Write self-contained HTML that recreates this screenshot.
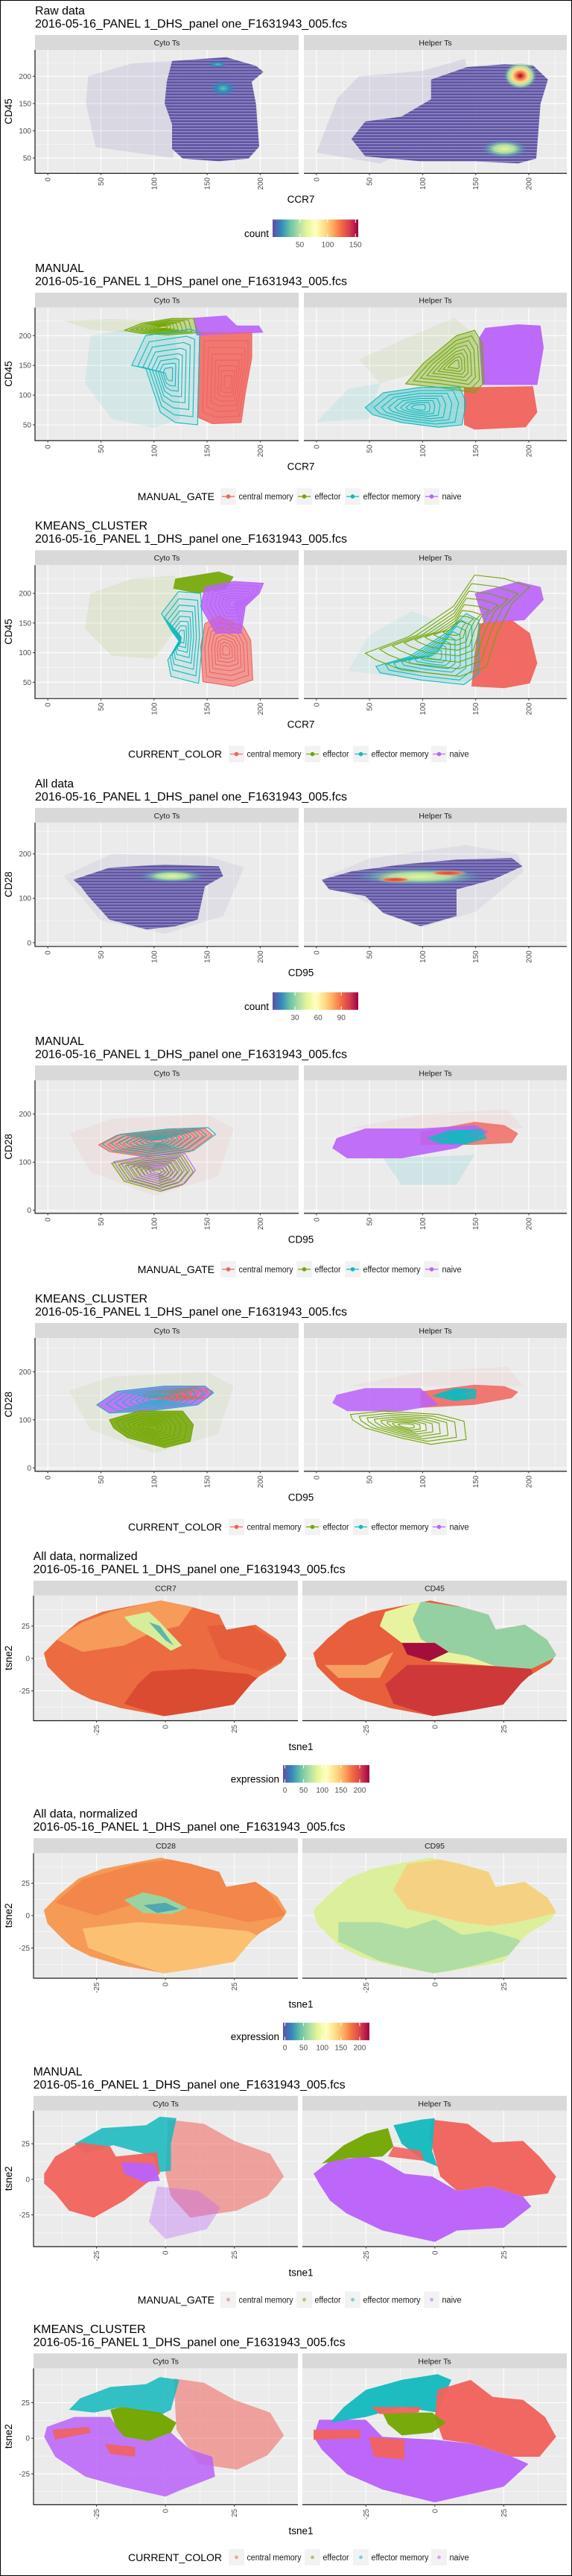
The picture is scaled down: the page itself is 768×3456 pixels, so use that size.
<!DOCTYPE html>
<html><head><meta charset="utf-8"><style>
html,body{margin:0;padding:0;background:#fff}
svg{display:block;font-family:"Liberation Sans",sans-serif}
</style></head><body>
<svg id="chart" width="768" height="3456" viewBox="0 0 768 3456" xmlns="http://www.w3.org/2000/svg">
<defs>
<linearGradient id="specH" x1="0" x2="1" y1="0" y2="0">
<stop offset="0" stop-color="#5E4FA2"/><stop offset="0.1" stop-color="#3288BD"/><stop offset="0.2" stop-color="#66C2A5"/><stop offset="0.3" stop-color="#ABDDA4"/><stop offset="0.4" stop-color="#E6F598"/><stop offset="0.5" stop-color="#FFFFBF"/><stop offset="0.6" stop-color="#FEE08B"/><stop offset="0.7" stop-color="#FDAE61"/><stop offset="0.8" stop-color="#F46D43"/><stop offset="0.9" stop-color="#D53E4F"/><stop offset="1" stop-color="#9E0142"/>
</linearGradient>
<radialGradient id="hotRed"><stop offset="0" stop-color="#9E0142"/><stop offset="0.25" stop-color="#F46D43"/><stop offset="0.5" stop-color="#FEE08B"/><stop offset="0.75" stop-color="#ABDDA4"/><stop offset="1" stop-color="#66C2A5" stop-opacity="0"/></radialGradient>
<radialGradient id="hotYel"><stop offset="0" stop-color="#E6F598"/><stop offset="0.45" stop-color="#ABDDA4"/><stop offset="1" stop-color="#3288BD" stop-opacity="0"/></radialGradient>
<radialGradient id="hotTeal"><stop offset="0" stop-color="#66C2A5"/><stop offset="0.5" stop-color="#3288BD"/><stop offset="1" stop-color="#3288BD" stop-opacity="0"/></radialGradient>
<radialGradient id="hotOrange"><stop offset="0" stop-color="#D53E4F"/><stop offset="0.6" stop-color="#F46D43"/><stop offset="1" stop-color="#FEE08B" stop-opacity="0"/></radialGradient>
<pattern id="stripes" width="4" height="4" patternUnits="userSpaceOnUse"><rect width="4" height="1.2" fill="#ffffff" opacity="0.35"/></pattern>
</defs>
<rect x="0.5" y="0.5" width="767" height="3455" fill="#fff" stroke="#000" stroke-width="1"/>
</svg>
<script>
// ---------- data (data units) ----------
const scatterXTicks=[0,50,100,150,200];
const ccrYTicks=[50,100,150,200];
const cd28YTicks=[0,100,200];
const tsneTicks=[-25,0,25];
const countTicks1=[50,100,150];
const countRange1=[1,155];
const countTicks4=[30,60,90];
const countRange4=[1,112];
const exprTicks=[0,50,100,150,200];
const exprRange=[-5,226];
const gateLabels=["central memory","effector","effector memory","naive"];

const s1CytoSparse=[[38,200],[80,224],[120,228],[118,50],[90,58],[45,70],[36,150]];
const s1CytoCore=[[117,228],[168,235],[196,219],[203,208],[192,190],[196,149],[199,71],[189,49],[161,44],[127,49],[117,67],[117,112],[110,150],[112,190]];
const s1CytoSpots=[[160,222,9,6],[165,178,12,14]];
const s1HelperSparse=[[20,160],[40,200],[100,210],[140,232],[150,120],[60,40],[0,60]];
const s1HelperCore=[[108,194],[142,217],[177,222],[204,220],[218,194],[211,149],[207,49],[190,40],[149,44],[98,44],[46,53],[33,85],[46,117],[80,126],[108,158]];
const s1HelperHot=[192,201,15,24];
const s1HelperWarm=[177,67,22,17];

const s2CytoFaintEm=[[40,200],[90,215],[120,205],[125,60],[100,45],[60,60],[35,120]];
const s2CytoFaintEf=[[15,225],[60,228],[100,225],[80,205],[40,210]];
const s2CytoNaive=[[137,230],[168,234],[178,217],[199,217],[203,205],[140,200]];
const s2CytoCM=[[143,205],[192,205],[192,163],[186,104],[182,54],[155,52],[141,63]];
const s2CytoEf=[[72,209],[89,221],[117,229],[137,229],[141,205],[113,201],[86,204]];
const s2CytoEm=[[79,150],[92,200],[134,211],[143,205],[141,50],[120,54],[106,71],[92,146]];
const s2HelperFaintEf=[[40,160],[90,200],[130,230],[150,200],[100,140],[60,120]];
const s2HelperFaintEm=[[0,55],[30,110],[60,120],[50,60]];
const s2HelperNaive=[[159,213],[190,219],[211,217],[214,180],[208,117],[156,117],[153,196]];
const s2HelperCM=[[139,113],[204,115],[208,71],[197,46],[149,42],[139,50]];
const s2HelperEf=[[84,119],[101,154],[132,200],[149,209],[156,188],[158,121],[149,104],[115,113]];
const s2HelperEm=[[46,79],[63,104],[98,113],[135,113],[141,88],[137,50],[115,46],[80,54],[53,67]];

const s3CytoFaintEf=[[40,200],[80,225],[120,230],[125,150],[100,90],[60,95],[35,140]];
const s3CytoEf=[[120,225],[161,237],[175,228],[168,208],[141,200],[118,208]];
const s3CytoNaive=[[148,211],[175,220],[203,217],[199,200],[186,178],[182,133],[158,133],[144,178]];
const s3CytoCM=[[148,149],[161,161],[184,144],[191,121],[193,54],[175,43],[146,51],[144,110]];
const s3CytoEm=[[107,166],[123,203],[144,200],[146,127],[142,48],[116,60],[113,88],[125,116],[116,138]];
const s3HelperFaint=[[30,70],[50,130],[90,170],[120,150],[110,70],[70,60]];
const s3HelperNaive=[[149,200],[190,220],[211,211],[214,189],[196,155],[158,149]];
const s3HelperCM=[[153,149],[184,155],[201,133],[208,82],[201,48],[177,40],[146,43],[149,99]];
const s3HelperEf=[[46,99],[87,127],[129,178],[149,231],[177,225],[201,211],[184,183],[170,133],[160,76],[135,60],[80,71],[56,88]];
const s3HelperEm=[[56,77],[87,93],[122,133],[141,166],[153,155],[153,65],[139,46],[98,54],[60,66]];

const s4CytoSparse=[[15,150],[60,200],[150,195],[185,170],[165,60],[110,20],[50,50]];
const s4CytoCore=[[24,142],[58,169],[110,176],[161,172],[165,150],[148,127],[141,52],[120,37],[93,30],[58,52],[38,105],[31,127]];
const s4CytoSpot=[117,150,32,15];
const s4HelperSparse=[[10,150],[50,190],[140,220],[190,200],[195,160],[150,70],[100,35],[20,120]];
const s4HelperCore=[[5,142],[34,161],[80,176],[132,187],[184,191],[194,172],[166,142],[132,120],[132,60],[98,37],[63,67],[46,105],[12,120]];
const s4HelperSpot=[97,149,62,20];
const s4HelperHot=[[74,142,16,6],[124,157,18,6]];

const s5CytoFaint=[[20,160],[60,190],[150,200],[175,170],[160,70],[100,30],[40,80]];
const s5CytoCM=[[48,136],[65,156],[110,167],[148,170],[155,156],[134,122],[93,111],[58,122]];
const s5CytoLow=[[60,98],[86,108],[127,115],[137,80],[127,53],[106,39],[72,60]];
const s5HelperFaintTop=[[30,170],[100,200],[180,210],[195,170],[100,170]];
const s5HelperFaint=[[63,108],[149,115],[132,53],[80,53]];
const s5HelperCM=[[98,163],[149,184],[177,177],[190,160],[184,140],[149,136],[98,136]];
const s5HelperNaive=[[19,150],[46,170],[98,170],[149,177],[162,163],[132,129],[80,108],[29,108],[15,129]];
const s5HelperEm=[[105,150],[125,165],[155,168],[160,150],[140,138],[115,140]];

const s6CytoFaint=[[20,160],[60,190],[150,200],[175,170],[160,70],[100,30],[40,80]];
const s6CytoNaive=[[46,131],[65,159],[110,170],[148,170],[156,156],[141,131],[93,118],[58,114]];
const s6CytoCM=[[95,158],[140,168],[155,160],[150,145],[120,140],[90,148]];
const s6CytoEf=[[58,100],[86,118],[127,118],[137,90],[134,55],[110,42],[75,63],[62,83]];
const s6HelperFaint=[[30,170],[100,200],[180,210],[195,170],[100,170]];
const s6HelperCM=[[98,159],[149,173],[177,170],[190,158],[184,145],[149,131],[98,125]];
const s6HelperNaive=[[19,152],[46,166],[98,166],[115,131],[80,118],[29,118],[15,135]];
const s6HelperEm=[[110,150],[130,165],[150,163],[150,145],[130,140]];
const s6HelperEf=[[32,111],[63,118],[115,111],[139,97],[141,59],[108,49],[80,62],[46,83],[34,100]];

const tsneOutline=[[-1.7,44.7],[-16.3,38.8],[-22.9,36],[-31.5,28.6],[-38.8,15.7],[-44.1,4.2],[-42.8,-6.1],[-38.1,-16.3],[-34.2,-24],[-26.9,-31.7],[-16.3,-38.2],[-0.4,-44.5],[11.5,-40.7],[24.8,-35.6],[31.4,-18.9],[34,-13.8],[42,-3.5],[44,2.9],[40.7,14.4],[32.7,26],[22.1,22.1],[19.5,33.7],[8.9,40.1]];
const s7CcrLight=[[-40,15],[-30,28],[-20,36],[-2,45],[10,40],[5,25],[-5,20],[-15,10],[-30,5]];
const s7CcrDark=[[-5,-10],[10,-8],[30,-12],[36,-18],[25,-36],[0,-45],[-15,-35],[-10,-20]];
const s7CcrRight=[[15,25],[30,27],[42,10],[44,0],[35,-10],[20,0]];
const s7CcrGreen=[[-15,32],[-6,36],[-2,28],[6,10],[2,6],[-4,15],[-12,25]];
const s7CcrTeal=[[-6,28],[-2,25],[3,10],[0,14]];
const s7Cd45Red=[[-10,-5],[10,-5],[22,-6],[35,-8],[36,-18],[25,-36],[0,-45],[-15,-35],[-18,-20]];
const s7Cd45Light=[[-40,-5],[-25,-5],[-15,5],[-20,-15],[-35,-15]];
const s7Cd45Yellow=[[-18,36],[-5,44],[-8,30],[-5,15],[2,6],[12,2],[22,-6],[10,-4],[-2,-2],[-12,12],[-20,25]];
const s7Cd45Green=[[-5,44],[8,40],[20,38],[32,27],[42,15],[45,2],[35,-8],[22,-6],[12,2],[2,6],[-5,15],[-8,30]];
const s7Cd45Dark=[[-12,12],[0,12],[5,5],[-2,-2],[-10,3]];
const s8Cd28Top=[[-40,10],[-30,28],[-10,40],[5,44],[20,38],[35,25],[44,0],[30,-5],[10,5],[-10,10],[-25,0]];
const s8Cd28Bottom=[[-30,-10],[-10,-5],[10,-8],[30,-12],[36,-18],[25,-36],[0,-45],[-15,-35],[-28,-25]];
const s8Cd28Green=[[-15,12],[-8,18],[0,14],[8,6],[2,1],[-8,2]];
const s8Cd28Teal=[[-8,8],[0,10],[5,5],[-3,2]];
const s8Cd95Orange=[[-10,40],[5,44],[20,38],[32,27],[42,12],[44,2],[30,-5],[20,-8],[10,-5],[0,0],[-10,5],[-15,20]];
const s8Cd95Green=[[-35,-5],[-20,-5],[-10,-10],[0,-3],[10,-15],[20,-12],[30,-18],[35,-25],[15,-38],[0,-45],[-20,-35],[-35,-20]];

const s9CytoEm=[[-33,25],[-23,36],[-7,38],[-2,44],[4,43],[2,25],[2,6],[-3,5],[-4,16],[-19,24],[-29,18]];
const s9CytoCM=[[-44,4],[-40,16],[-31,26],[-20,23],[-18,16],[-3,19],[-2,4],[-7,-3],[-15,-15],[-26,-27],[-35,-22],[-40,-10],[-44,-3]];
const s9CytoCMSparse=[[1,42],[14,39],[25,27],[38,18],[43,2],[37,-12],[26,-22],[9,-27],[2,-12],[0,4]];
const s9CytoNaive=[[-16,12],[-4,11],[-2,-1],[-8,-2],[-15,4]];
const s9CytoNaiveSparse=[[-3,-5],[12,-8],[20,-20],[15,-35],[0,-42],[-6,-30]];
const s9HelperCM=[[-1,42],[12,39],[21,26],[32,27],[38,16],[44,2],[41,-10],[32,-12],[20,-5],[8,-8],[2,2],[0,16],[-2,30]];
const s9HelperNaive=[[-44,4],[-38,13],[-25,16],[-19,13],[-11,4],[-1,2],[8,-8],[20,-5],[32,-12],[35,-19],[25,-34],[8,-36],[0,-44],[-19,-36],[-32,-24],[-38,-15],[-42,-3]];
const s9HelperEf=[[-33,24],[-25,32],[-17,36],[-15,23],[-19,16],[-31,15],[-41,11]];
const s9HelperEm=[[-15,38],[-5,42],[0,43],[-1,20],[1,9],[-4,13],[-12,25]];
const s9HelperCMMid=[[-15,23],[-5,20],[-4,13],[-17,16]];

const s10CytoNaive=[[-43,8],[-33,15],[-20,15],[-15,1],[-6,-2],[2,4],[9,-8],[17,-13],[18,-27],[6,-36],[0,-41],[-16,-34],[-29,-27],[-40,-13],[-44,1]];
const s10CytoCMSparse=[[3,42],[14,39],[25,27],[38,18],[43,2],[37,-12],[26,-22],[12,-18],[4,6]];
const s10CytoEm=[[-35,20],[-31,28],[-20,36],[-7,38],[-2,43],[5,41],[2,20],[-2,16],[-16,22],[-26,18]];
const s10CytoEf=[[-20,20],[-16,22],[-2,18],[4,11],[2,4],[-6,-2],[-15,1],[-18,8]];
const s10CytoCMLeft=[[-41,6],[-28,8],[-27,4],[-40,-1]];
const s10CytoCMLeft2=[[-22,-4],[-11,-6],[-11,-13],[-20,-11]];
const s10HelperNaive=[[-42,13],[-25,13],[-19,1],[0,-1],[14,-4],[28,-13],[34,-18],[25,-34],[0,-45],[-19,-36],[-32,-25],[-41,-8],[-44,1]];
const s10HelperEm=[[-33,22],[-25,34],[-12,41],[1,45],[6,41],[1,18],[-12,22],[-25,15],[-38,11]];
const s10HelperCM=[[1,34],[13,41],[21,29],[32,27],[40,15],[44,1],[38,-13],[28,-13],[14,-4],[3,-1],[0,15]];
const s10HelperEf=[[-19,18],[-1,18],[4,11],[-1,4],[-12,2],[-17,10]];
const s10HelperCMMid=[[-23,22],[-5,22],[-6,18],[-20,17]];
const s10HelperCMLow=[[-24,1],[-11,-1],[-11,-15],[-22,-13]];
const s10HelperCMLeft=[[-44,6],[-27,6],[-27,0],[-44,-1]];

// ---------- rendering ----------
const NS='http://www.w3.org/2000/svg';
const svg=document.getElementById('chart');
function mk(tag,attrs,parent){const e=document.createElementNS(NS,tag);for(const k in attrs)e.setAttribute(k,attrs[k]);(parent||svg).appendChild(e);return e;}
function tx(str,attrs,parent){const e=mk('text',attrs,parent);e.textContent=str;return e;}
const C={cm:'#F1635D',ef:'#72A600',em:'#12B9BE',nv:'#BA62FA'};
const HEX='#5A4EA1';
const SEC=345.6;
const sectionTitles=["Raw data","MANUAL","KMEANS_CLUSTER","All data","MANUAL","KMEANS_CLUSTER","All data, normalized","All data, normalized","MANUAL","KMEANS_CLUSTER"];
const titleWidths=[67,66,151,52,66,151,140,140,66,151];
const FCS="2016-05-16_PANEL 1_DHS_panel one_F1631943_005.fcs";
const layout=[
 {kind:'sc',bottom:232,yz:248.6,yk:.7313,yt:ccrYTicks,xlab:'CCR7',ylab:'CD45',legend:'count1',strips:['Cyto Ts','Helper Ts']},
 {kind:'sc',bottom:245,yz:264.3,yk:.798,yt:ccrYTicks,xlab:'CCR7',ylab:'CD45',legend:'MANUAL_GATE',strips:['Cyto Ts','Helper Ts']},
 {kind:'sc',bottom:245.5,yz:263.9,yk:.795,yt:ccrYTicks,xlab:'CCR7',ylab:'CD45',legend:'CURRENT_COLOR',strips:['Cyto Ts','Helper Ts']},
 {kind:'sc',bottom:232.5,yz:228,yk:.596,yt:cd28YTicks,xlab:'CD95',ylab:'CD28',legend:'count4',strips:['Cyto Ts','Helper Ts']},
 {kind:'sc',bottom:245,yz:241.3,yk:.645,yt:cd28YTicks,xlab:'CD95',ylab:'CD28',legend:'MANUAL_GATE',strips:['Cyto Ts','Helper Ts']},
 {kind:'sc',bottom:245.5,yz:241.3,yk:.645,yt:cd28YTicks,xlab:'CD95',ylab:'CD28',legend:'CURRENT_COLOR',strips:['Cyto Ts','Helper Ts']},
 {kind:'ts',bottom:234.4,yz:151.4,yk:1.74,yt:tsneTicks,xlab:'tsne1',ylab:'tsne2',legend:'expr',strips:['CCR7','CD45']},
 {kind:'ts',bottom:234.3,yz:150.8,yk:1.74,yt:tsneTicks,xlab:'tsne1',ylab:'tsne2',legend:'expr',strips:['CD28','CD95']},
 {kind:'ts',bottom:248.8,yz:159,yk:1.908,yt:tsneTicks,xlab:'tsne1',ylab:'tsne2',legend:'MANUAL_GATE',strips:['Cyto Ts','Helper Ts']},
 {kind:'ts',bottom:249.5,yz:160.8,yk:1.91,yt:tsneTicks,xlab:'tsne1',ylab:'tsne2',legend:'CURRENT_COLOR',strips:['Cyto Ts','Helper Ts']}
];
let clipId=0;
function geom(si,side){
  const L=layout[si],top=si*SEC;
  let x0,xk,l,r;
  if(L.kind==='sc'){xk=1.426;x0=side?424.8:64.2;l=side?408:47;r=side?761:401;}
  else{xk=3.70;x0=side?583.8:222.1;l=side?406:45;r=side?761:400;}
  return {top,l,r,t:top+67,b:top+L.bottom,xk,x0,
    X:v=>x0+v*xk, Y:v=>top+L.yz-v*L.yk,
    xRange:[(l-x0)/xk,(r-x0)/xk], yRange:[(L.yz-L.bottom)/L.yk,(L.yz-67)/L.yk]};
}
function pts(g,arr){return arr.map(p=>g.X(p[0]).toFixed(1)+','+g.Y(p[1]).toFixed(1)).join(' ');}
function poly(g,arr,fill,op,parent,name){
  const e=mk('polygon',{points:pts(g,arr),fill:fill,'fill-opacity':op,'stroke-linejoin':'round'},parent);
  
  
  return e;
}
function contour(g,arr,color,parent,name,fill){
  let cx=0,cy=0;arr.forEach(p=>{cx+=p[0];cy+=p[1];});cx/=arr.length;cy/=arr.length;
  const grp=mk('g',{},parent);
  
  
  if(fill){mk('polygon',{points:pts(g,arr),fill:color,'fill-opacity':fill},grp);}
  [1,.84,.7,.57,.45,.34,.24,.14].forEach(s=>{
    const sc=arr.map(p=>[cx+(p[0]-cx)*s,cy+(p[1]-cy)*s]);
    mk('polygon',{points:pts(g,sc),fill:'none',stroke:color,'stroke-width':1.1,'stroke-linejoin':'round'},grp);
  });
  return grp;
}
function spot(g,s,grad,parent,name){
  const e=mk('ellipse',{cx:g.X(s[0]),cy:g.Y(s[1]),rx:s[2]*g.xk,ry:Math.abs(g.Y(0)-g.Y(s[3])),fill:'url(#'+grad+')'},parent);
  
  
}
function hexCore(g,arr,parent,name){
  poly(g,arr,HEX,0.95,parent,name);
  mk('polygon',{points:pts(g,arr),fill:'url(#stripes)'},parent);
}

function drawPanel(si,side,fn){
  const L=layout[si],g=geom(si,side);
  const pg=mk('g',{});
  
  
  const st=mk('rect',{x:g.l,y:g.top+47,width:g.r-g.l,height:20,fill:'#D9D9D9'},pg);
  
  
  const stt=tx(L.strips[side],{x:(g.l+g.r)/2,y:g.top+61,'font-size':10.5,'text-anchor':'middle',fill:'#1A1A1A'},pg);
  
  
  const bg=mk('rect',{x:g.l,y:g.t,width:g.r-g.l,height:g.b-g.t,fill:'#EBEBEB'},pg);
  
  
  const xt=L.kind==='sc'?scatterXTicks:tsneTicks;
  const xstep=xt[1]-xt[0],ystep=L.yt[1]-L.yt[0];
  for(let v=Math.floor(g.xRange[0]/xstep)*xstep-xstep/2;v<=g.xRange[1];v+=xstep){const x=g.X(v);if(x>g.l&&x<g.r)mk('line',{x1:x,x2:x,y1:g.t,y2:g.b,stroke:'#fff','stroke-width':.5},pg);}
  for(let v=Math.floor(g.yRange[0]/ystep)*ystep-ystep/2;v<=g.yRange[1];v+=ystep){const y=g.Y(v);if(y>g.t&&y<g.b)mk('line',{x1:g.l,x2:g.r,y1:y,y2:y,stroke:'#fff','stroke-width':.5},pg);}
  xt.forEach(v=>{const x=g.X(v);if(x>g.l&&x<g.r)mk('line',{x1:x,x2:x,y1:g.t,y2:g.b,stroke:'#fff','stroke-width':1.1},pg);});
  L.yt.forEach(v=>{const y=g.Y(v);if(y>g.t&&y<g.b)mk('line',{x1:g.l,x2:g.r,y1:y,y2:y,stroke:'#fff','stroke-width':1.1},pg);});
  clipId++;
  const cp=mk('clipPath',{id:'cp'+clipId},pg);
  mk('rect',{x:g.l,y:g.t,width:g.r-g.l,height:g.b-g.t},cp);
  const dg=mk('g',{'clip-path':'url(#cp'+clipId+')'},pg);
  
  
  fn(g,dg);
  mk('line',{x1:g.l,x2:g.r,y1:g.b+.5,y2:g.b+.5,stroke:'#1a1a1a','stroke-width':1.2},pg);
  if(!side)mk('line',{x1:g.l,x2:g.l,y1:g.t,y2:g.b+1,stroke:'#1a1a1a','stroke-width':1.2},pg);
  xt.forEach(v=>{const x=g.X(v);
    mk('line',{x1:x,x2:x,y1:g.b,y2:g.b+3,stroke:'#333','stroke-width':1},pg);
    const t=tx(String(v),{x:0,y:0,transform:'translate('+(x+3.5)+','+(g.b+6)+') rotate(-90)','font-size':10,'text-anchor':'end',fill:'#4D4D4D'},pg);
    
    
  });
  if(!side){L.yt.forEach(v=>{const y=g.Y(v);
    mk('line',{x1:g.l-3,x2:g.l,y1:y,y2:y,stroke:'#333','stroke-width':1},pg);
    const t=tx(String(v),{x:g.l-5,y:y+3.5,'font-size':10,'text-anchor':'end',fill:'#4D4D4D'},pg);
    
    
  });}
}

function drawSectionFrame(si){
  const L=layout[si],top=si*SEC;
  const lx=L.kind==='sc'?47:44.6;
  const t1=tx(sectionTitles[si],{x:lx,y:top+19.5,'font-size':16,fill:'#000',textLength:titleWidths[si],lengthAdjust:'spacingAndGlyphs'});
  
  
  const t2=tx(FCS,{x:lx,y:top+37,'font-size':16,fill:'#000',textLength:419,lengthAdjust:'spacingAndGlyphs'});
  
  
  const xl=tx(L.xlab,{x:404,y:top+L.bottom+40,'font-size':13.5,'text-anchor':'middle',fill:'#000'});
  
  
  const ymid=top+(67+L.bottom)/2;
  const yl=tx(L.ylab,{x:0,y:0,transform:'translate(16,'+ymid+') rotate(-90)','font-size':13.5,'text-anchor':'middle',fill:'#000'});
  
  
  drawLegend(si);
}

function drawLegend(si){
  const L=layout[si],top=si*SEC;
  const lg=mk('g',{});
  
  
  if(L.legend==='count1'||L.legend==='count4'||L.legend==='expr'){
    const isE=L.legend==='expr';
    const x0=isE?380:366,x1=isE?496:481;
    const rng=isE?exprRange:(L.legend==='count1'?countRange1:countRange4);
    const ticks=isE?exprTicks:(L.legend==='count1'?countTicks1:countTicks4);
    const bar=mk('rect',{x:x0,y:top+294.5,width:x1-x0,height:23.5,fill:'url(#specH)'},lg);
    
    
    const lab=tx(isE?'expression':'count',{x:x0-5,y:top+318,'font-size':13.5,'text-anchor':'end',fill:'#000'},lg);
    
    
    ticks.forEach(v=>{const x=x0+(v-rng[0])/(rng[1]-rng[0])*(x1-x0);
      mk('line',{x1:x,x2:x,y1:top+294.5,y2:top+299,stroke:'#fff','stroke-width':1},lg);
      mk('line',{x1:x,x2:x,y1:top+313.5,y2:top+318,stroke:'#fff','stroke-width':1},lg);
      const t=tx(String(v),{x:x,y:top+331.5,'font-size':10,'text-anchor':'middle',fill:'#4D4D4D'},lg);
      
      
    });
    return;
  }
  const man=L.legend==='MANUAL_GATE';
  const cy=top+320.5;
  const tt=tx(L.legend,{x:man?288:298,y:cy+5,'font-size':14,'text-anchor':'end',fill:'#000'},lg);
  
  
  const keys=man?[296,398,463,569]:[307,409,474,579];
  const widths=[73,35,77,26];
  const cols=[C.cm,C.ef,C.em,C.nv];
  gateLabels.forEach((lab,i)=>{
    const kg=mk('g',{},lg);
    
    
    mk('rect',{x:keys[i],y:cy-11,width:21,height:22,fill:'#F2F2F2'},kg);
    if(L.kind==='sc'){
      mk('line',{x1:keys[i]+2,x2:keys[i]+19,y1:cy,y2:cy,stroke:cols[i],'stroke-width':1.2},kg);
      mk('circle',{cx:keys[i]+10.5,cy:cy,r:2.8,fill:cols[i]},kg);
    } else {
      mk('circle',{cx:keys[i]+10.5,cy:cy,r:2.4,fill:cols[i],'fill-opacity':.55},kg);
    }
    tx(lab,{x:keys[i]+24.5,y:cy+4,'font-size':11.5,fill:'#1A1A1A',textLength:widths[i],lengthAdjust:'spacingAndGlyphs'},kg);
  });
}

// ---- Section 1
drawPanel(0,0,(g,d)=>{poly(g,s1CytoSparse,HEX,.12,d,'sparse-bins');hexCore(g,s1CytoCore,d,'dense-bins');
  s1CytoSpots.forEach(s=>spot(g,s,'hotTeal',d,'density-hotspot'));});
drawPanel(0,1,(g,d)=>{poly(g,s1HelperSparse,HEX,.12,d,'sparse-bins');hexCore(g,s1HelperCore,d,'dense-bins');
  spot(g,s1HelperWarm,'hotYel',d,'density-hotspot');spot(g,s1HelperHot,'hotRed',d,'density-hotspot');});
drawSectionFrame(0);
// ---- Section 2
drawPanel(1,0,(g,d)=>{poly(g,s2CytoFaintEm,C.em,.1,d,'effector-memory-points');poly(g,s2CytoFaintEf,C.ef,.1,d,'effector-points');
  poly(g,s2CytoCM,C.cm,.85,d,'central-memory-points');poly(g,s2CytoNaive,C.nv,.9,d,'naive-points');
  contour(g,s2CytoCM,C.cm,d,'central-memory-contour');contour(g,s2CytoEf,C.ef,d,'effector-contour',.35);contour(g,s2CytoEm,C.em,d,'effector-memory-contour',.12);});
drawPanel(1,1,(g,d)=>{poly(g,s2HelperFaintEf,C.ef,.08,d,'effector-points');poly(g,s2HelperFaintEm,C.em,.1,d,'effector-memory-points');
  poly(g,s2HelperNaive,C.nv,.95,d,'naive-points');poly(g,s2HelperCM,C.cm,.95,d,'central-memory-points');
  contour(g,s2HelperEf,C.ef,d,'effector-contour',.35);contour(g,s2HelperEm,C.em,d,'effector-memory-contour',.35);});
drawSectionFrame(1);
// ---- Section 3
drawPanel(2,0,(g,d)=>{poly(g,s3CytoFaintEf,C.ef,.1,d,'effector-points');
  poly(g,s3CytoEf,C.ef,.9,d,'effector-points-dense');poly(g,s3CytoCM,C.cm,.6,d,'central-memory-points');poly(g,s3CytoNaive,C.nv,.85,d,'naive-points');
  contour(g,s3CytoCM,C.cm,d,'central-memory-contour');contour(g,s3CytoNaive,C.nv,d,'naive-contour');contour(g,s3CytoEm,C.em,d,'effector-memory-contour',.12);});
drawPanel(2,1,(g,d)=>{poly(g,s3HelperFaint,C.em,.08,d,'effector-memory-points');
  poly(g,s3HelperNaive,C.nv,.9,d,'naive-points');poly(g,s3HelperCM,C.cm,.95,d,'central-memory-points');
  contour(g,s3HelperEm,C.em,d,'effector-memory-contour',.2);contour(g,s3HelperEf,C.ef,d,'effector-contour');});
drawSectionFrame(2);
// ---- Section 4
drawPanel(3,0,(g,d)=>{poly(g,s4CytoSparse,HEX,.08,d,'sparse-bins');hexCore(g,s4CytoCore,d,'dense-bins');spot(g,s4CytoSpot,'hotYel',d,'density-hotspot');});
drawPanel(3,1,(g,d)=>{poly(g,s4HelperSparse,HEX,.08,d,'sparse-bins');hexCore(g,s4HelperCore,d,'dense-bins');spot(g,s4HelperSpot,'hotYel',d,'density-hotspot');
  s4HelperHot.forEach(s=>spot(g,s,'hotOrange',d,'density-hotspot'));});
drawSectionFrame(3);
// ---- Section 5
drawPanel(4,0,(g,d)=>{poly(g,s5CytoFaint,C.cm,.07,d,'sparse-points');poly(g,s5CytoCM,C.cm,.5,d,'central-memory-points');
  contour(g,s5CytoCM,C.cm,d,'central-memory-contour');contour(g,s5CytoCM.map(p=>[p[0]+3,p[1]+2]),C.em,d,'effector-memory-contour');
  contour(g,s5CytoLow,C.ef,d,'effector-contour',.2);contour(g,s5CytoLow.map(p=>[p[0]+2,p[1]+3]),C.nv,d,'naive-contour');});
drawPanel(4,1,(g,d)=>{poly(g,s5HelperFaintTop,C.cm,.07,d,'sparse-points');poly(g,s5HelperFaint,C.em,.12,d,'effector-memory-points');
  poly(g,s5HelperCM,C.cm,.8,d,'central-memory-points');poly(g,s5HelperNaive,C.nv,.9,d,'naive-points');
  contour(g,s5HelperEm,C.em,d,'effector-memory-contour',.7);});
drawSectionFrame(4);
// ---- Section 6
drawPanel(5,0,(g,d)=>{poly(g,s6CytoFaint,C.ef,.07,d,'sparse-points');poly(g,s6CytoNaive,C.nv,.85,d,'naive-points');
  contour(g,s6CytoCM,C.cm,d,'central-memory-contour');contour(g,s6CytoNaive,C.em,d,'effector-memory-contour');contour(g,s6CytoEf,C.ef,d,'effector-contour',.85);});
drawPanel(5,1,(g,d)=>{poly(g,s6HelperFaint,C.cm,.07,d,'sparse-points');poly(g,s6HelperCM,C.cm,.85,d,'central-memory-points');poly(g,s6HelperNaive,C.nv,.85,d,'naive-points');
  contour(g,s6HelperEm,C.em,d,'effector-memory-contour',.7);contour(g,s6HelperEf,C.ef,d,'effector-contour');});
drawSectionFrame(5);
// ---- tSNE
function tsneBase(g,d,color,name){
  clipId++;
  const cp=mk('clipPath',{id:'cp'+clipId},d);
  mk('polygon',{points:pts(g,tsneOutline)},cp);
  poly(g,tsneOutline,color,1,d,name);
  const inner=mk('g',{'clip-path':'url(#cp'+clipId+')'},d);
  return inner;
}
drawPanel(6,0,(g,d)=>{const c=tsneBase(g,d,'#EC6B40','ccr7-map');
  poly(g,s7CcrDark,'#D8452F',.85,c,'high-region');poly(g,s7CcrRight,'#E45A3A',.8,c,'high-region');poly(g,s7CcrLight,'#F8A35E',.85,c,'mid-region');
  poly(g,s7CcrGreen,'#D6EE9B',1,c,'low-region');poly(g,s7CcrTeal,'#5FB6A8',1,c,'lowest-region');});
drawPanel(6,1,(g,d)=>{const c=tsneBase(g,d,'#E85F3C','cd45-map');
  poly(g,s7Cd45Red,'#CC3438',.9,c,'high-region');poly(g,s7Cd45Light,'#F8B06A',.8,c,'mid-region');
  poly(g,s7Cd45Yellow,'#E8F3A0',1,c,'mid-region');poly(g,s7Cd45Green,'#95D0A3',1,c,'low-region');poly(g,s7Cd45Dark,'#A50E3C',1,c,'max-region');});
drawSectionFrame(6);
drawPanel(7,0,(g,d)=>{const c=tsneBase(g,d,'#F59B56','cd28-map');
  poly(g,s8Cd28Top,'#F28348',.85,c,'high-region');poly(g,s8Cd28Bottom,'#FCC574',.9,c,'mid-region');
  poly(g,s8Cd28Green,'#9AD3A2',1,c,'low-region');poly(g,s8Cd28Teal,'#4FA8B0',1,c,'lowest-region');});
drawPanel(7,1,(g,d)=>{const c=tsneBase(g,d,'#DCEF9C','cd95-map');
  poly(g,s8Cd95Orange,'#FBCB7D',.8,c,'high-region');poly(g,s8Cd95Green,'#A8D9A4',.85,c,'low-region');});
drawSectionFrame(7);
drawPanel(8,0,(g,d)=>{poly(g,s9CytoCMSparse,C.cm,.55,d,'central-memory-points');poly(g,s9CytoNaiveSparse,C.nv,.35,d,'naive-points');
  poly(g,s9CytoEm,C.em,.85,d,'effector-memory-points');poly(g,s9CytoCM,C.cm,.95,d,'central-memory-points');poly(g,s9CytoNaive,C.nv,.95,d,'naive-points');});
drawPanel(8,1,(g,d)=>{poly(g,s9HelperNaive,C.nv,.97,d,'naive-points');poly(g,s9HelperCM,C.cm,.97,d,'central-memory-points');
  poly(g,s9HelperEf,C.ef,.95,d,'effector-points');poly(g,s9HelperEm,C.em,.95,d,'effector-memory-points');poly(g,s9HelperCMMid,C.cm,.9,d,'central-memory-points');});
drawSectionFrame(8);
drawPanel(9,0,(g,d)=>{poly(g,s10CytoCMSparse,C.cm,.55,d,'central-memory-points');poly(g,s10CytoNaive,C.nv,.85,d,'naive-points');
  poly(g,s10CytoEm,C.em,.85,d,'effector-memory-points');poly(g,s10CytoEf,C.ef,.97,d,'effector-points');
  poly(g,s10CytoCMLeft,C.cm,.9,d,'central-memory-points');poly(g,s10CytoCMLeft2,C.cm,.9,d,'central-memory-points');});
drawPanel(9,1,(g,d)=>{poly(g,s10HelperNaive,C.nv,.97,d,'naive-points');poly(g,s10HelperEm,C.em,.95,d,'effector-memory-points');
  poly(g,s10HelperCM,C.cm,.97,d,'central-memory-points');poly(g,s10HelperEf,C.ef,.95,d,'effector-points');
  poly(g,s10HelperCMMid,C.cm,.95,d,'central-memory-points');poly(g,s10HelperCMLow,C.cm,.95,d,'central-memory-points');poly(g,s10HelperCMLeft,C.cm,.95,d,'central-memory-points');});
drawSectionFrame(9);
</script>
</body></html>
